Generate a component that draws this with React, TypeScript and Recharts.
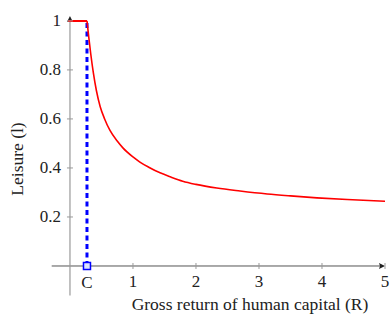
import React from "react";
import { ComposedChart, Line, Scatter, XAxis, YAxis, ReferenceLine, ReferenceDot } from "recharts";

const C = 0.27;

// flat part, leisure = 1 until C
const flatR = [-0.03, 0.27];
const flatL = [1, 1];

// decreasing part
const curveR = [0.27, 0.3, 0.33, 0.37, 0.42, 0.48, 0.55, 0.635, 0.75, 0.84, 1.0, 1.11, 1.25, 1.43, 1.6, 1.79, 2.0, 2.33, 2.7, 3.13, 3.5, 3.92, 4.4, 5.0];
const curveL = [1, 0.93, 0.865, 0.79, 0.715, 0.65, 0.6, 0.553, 0.51, 0.482, 0.445, 0.424, 0.403, 0.38, 0.363, 0.346, 0.333, 0.318, 0.306, 0.294, 0.286, 0.278, 0.271, 0.264];

const xTicks = [1, 2, 3, 4, 5];
const yTicks = [0.2, 0.4, 0.6, 0.8, 1];

const flatData = flatR.map((r, i) => ({ r, l: flatL[i] }));
const curveData = curveR.map((r, i) => ({ r, l: curveL[i] }));
const cutData = [{ r: C, l: 0 }, { r: C, l: 1 }];
const markerData = [{ r: C, l: 0 }];

const FONT = "'Liberation Serif', 'Times New Roman', serif";
const TEXT = "#222";

const XAxisLine = (p: any) => (
  <g>
    <line x1={p.x1} y1={p.y1} x2={p.x2 - 3} y2={p.y2} stroke="#555" strokeWidth={1} />
    <path d={`M${p.x2},${p.y2} L${p.x2 - 6},${p.y2 - 3} L${p.x2 - 5},${p.y2} L${p.x2 - 6},${p.y2 + 3} Z`} fill="#222" />
  </g>
);

const YAxisLine = (p: any) => {
  const top = Math.min(p.y1, p.y2);
  const bot = Math.max(p.y1, p.y2);
  return (
    <g>
      <line x1={p.x1} y1={bot} x2={p.x1} y2={top + 3} stroke="#999" strokeWidth={1.2} />
      <path d={`M${p.x1},${top} L${p.x1 - 3},${top + 6} L${p.x1},${top + 5} L${p.x1 + 3},${top + 6} Z`} fill="#222" />
    </g>
  );
};

const xTickShape = (label: string) => (p: any) => (
  <g>
    <line x1={p.cx} y1={p.cy - 3} x2={p.cx} y2={p.cy + 3} stroke="#999" />
    <text x={p.cx} y={p.cy + 21} textAnchor="middle" fontFamily={FONT} fontSize={17} fill={TEXT}>
      {label}
    </text>
  </g>
);

const yTickShape = (label: string) => (p: any) => (
  <g>
    <line x1={p.cx - 3} y1={p.cy} x2={p.cx + 3} y2={p.cy} stroke="#999" />
    <text x={p.cx - 9} y={p.cy + 5.5} textAnchor="end" fontFamily={FONT} fontSize={17} fill={TEXT}>
      {label}
    </text>
  </g>
);

const cLabel = (p: any) => (
  <text x={p.cx} y={p.cy + 22} textAnchor="middle" fontFamily={FONT} fontSize={17} fill={TEXT}>
    C
  </text>
);

const SquareMarker = (p: any) => (
  <rect x={p.cx - 3.5} y={p.cy - 3.5} width={7} height={7} fill="#dde4ff" stroke="#0000ff" strokeWidth={1.5} />
);

const App: React.FC = () => (
  <div style={{ position: "absolute", left: 0, top: 0, width: 390, height: 315, background: "#fff" }}>
    <ComposedChart
      width={390}
      height={315}
      margin={{ top: 16, right: 5, bottom: 19.6, left: 51.7 }}
    >
      <XAxis type="number" dataKey="r" domain={[-0.29, 5]} hide allowDataOverflow />
      <YAxis type="number" dataKey="l" domain={[-0.12, 1.02]} hide allowDataOverflow />

      <ReferenceLine y={0} shape={XAxisLine} />
      <ReferenceLine x={0} shape={YAxisLine} />

      {xTicks.map((t) => (
        <ReferenceDot key={`xt-${t}`} x={t} y={0} shape={xTickShape(String(t))} />
      ))}
      {yTicks.map((t) => (
        <ReferenceDot key={`yt-${t}`} x={0} y={t} shape={yTickShape(String(t))} />
      ))}
      <ReferenceDot x={C} y={0} shape={cLabel} />

      <Line data={cutData} dataKey="l" stroke="#0000ff" strokeWidth={3} strokeDasharray="5 3.5" dot={false} isAnimationActive={false} />
      <Line data={flatData} dataKey="l" type="linear" stroke="#ff0000" strokeWidth={2} dot={false} isAnimationActive={false} />
      <Line data={curveData} dataKey="l" type="monotone" stroke="#ff0000" strokeWidth={1.6} dot={false} isAnimationActive={false} />
      <Scatter data={markerData} dataKey="l" shape={SquareMarker} isAnimationActive={false} />

      <text x={250} y={310} textAnchor="middle" fontFamily={FONT} fontSize={17.5} fill={TEXT}>
        Gross return of human capital (R)
      </text>
      <text x={23} y={159} textAnchor="middle" fontFamily={FONT} fontSize={17.5} fill={TEXT} transform="rotate(-90 23 159)">
        Leisure (l)
      </text>
    </ComposedChart>
  </div>
);

export default App;
